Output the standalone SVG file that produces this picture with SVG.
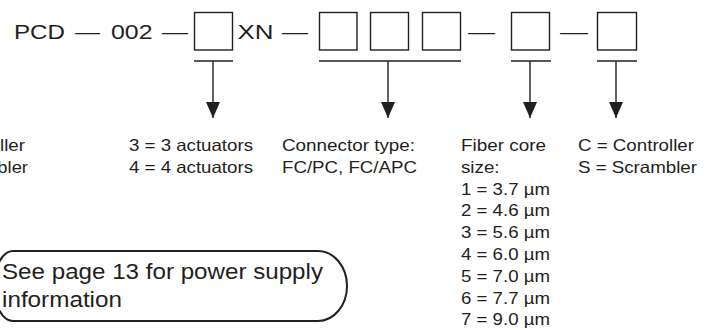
<svg xmlns="http://www.w3.org/2000/svg" width="710" height="330" viewBox="0 0 710 330">
  <style>
    text { font-family: "Liberation Sans", Arial, Helvetica, sans-serif; fill: #231f20; }
    .title { font-size: 21px; }
    .lbl { font-size: 16.5px; }
    .note { font-size: 22.5px; }
    .box { fill: #ffffff; stroke: #231f20; stroke-width: 1.4; }
    .rule { stroke: #231f20; stroke-width: 1.4; fill: none; }
    .stem { stroke: #231f20; stroke-width: 1.4; fill: none; marker-end: url(#head); }
    .callout { fill: none; stroke: #231f20; stroke-width: 2; }
  </style>
  <defs>
    <marker id="head" viewBox="0 0 16 14" refX="16" refY="7" markerWidth="16" markerHeight="14" markerUnits="userSpaceOnUse" orient="auto">
      <path d="M0,0 L16,7 L0,14 Z" fill="#231f20"/>
    </marker>
  </defs>

  <g id="part-number">
    <text class="title" x="14" y="38.5" textLength="51" lengthAdjust="spacingAndGlyphs">PCD</text>
    <text class="title" x="75" y="38.5" textLength="25" lengthAdjust="spacingAndGlyphs">—</text>
    <text class="title" x="111" y="38.5" textLength="41.5" lengthAdjust="spacingAndGlyphs">002</text>
    <text class="title" x="162" y="38.5" textLength="26" lengthAdjust="spacingAndGlyphs">—</text>
    <text class="title" x="237.5" y="38.5" textLength="36" lengthAdjust="spacingAndGlyphs">XN</text>
    <text class="title" x="282" y="38.5" textLength="26" lengthAdjust="spacingAndGlyphs">—</text>
    <text class="title" x="468" y="38.5" textLength="27" lengthAdjust="spacingAndGlyphs">—</text>
    <text class="title" x="560" y="38.5" textLength="28" lengthAdjust="spacingAndGlyphs">—</text>
  </g>

  <g id="box-actuators"><rect class="box" x="194.5" y="12.5" width="38" height="37.5"/></g>
  <g id="box-connector-1"><rect class="box" x="319.5" y="12.5" width="37.5" height="37.5"/></g>
  <g id="box-connector-2"><rect class="box" x="370.5" y="12.5" width="38" height="37.5"/></g>
  <g id="box-connector-3"><rect class="box" x="422.5" y="12.5" width="38" height="37.5"/></g>
  <g id="box-fiber"><rect class="box" x="511.5" y="12.5" width="38" height="37.5"/></g>
  <g id="box-type"><rect class="box" x="597.5" y="12.5" width="39" height="37.5"/></g>

  <g id="connectors">
    <line class="rule" x1="194" y1="61" x2="233" y2="61"/>
    <line class="rule" x1="319" y1="61" x2="461" y2="61"/>
    <line class="rule" x1="511" y1="61" x2="551" y2="61"/>
    <line class="rule" x1="597" y1="61" x2="637" y2="61"/>
    <line class="stem" x1="213" y1="61" x2="213" y2="118"/>
    <line class="stem" x1="388" y1="61" x2="388" y2="118"/>
    <line class="stem" x1="530" y1="61" x2="530" y2="118"/>
    <line class="stem" x1="616" y1="61" x2="616" y2="118"/>
  </g>

  <g id="label-left-type">
    <text class="lbl" x="-91" y="151" textLength="116" lengthAdjust="spacingAndGlyphs">C = Controller</text>
    <text class="lbl" x="-89" y="172.8" textLength="117" lengthAdjust="spacingAndGlyphs">S = Scrambler</text>
  </g>

  <g id="label-actuators">
    <text class="lbl" x="129" y="151" textLength="124" lengthAdjust="spacingAndGlyphs">3 = 3 actuators</text>
    <text class="lbl" x="129" y="172.8" textLength="124" lengthAdjust="spacingAndGlyphs">4 = 4 actuators</text>
  </g>

  <g id="label-connector">
    <text class="lbl" x="282" y="151" textLength="133" lengthAdjust="spacingAndGlyphs">Connector type:</text>
    <text class="lbl" x="282" y="172.8" textLength="135" lengthAdjust="spacingAndGlyphs">FC/PC, FC/APC</text>
  </g>

  <g id="label-fiber">
    <text class="lbl" x="461" y="151" textLength="85" lengthAdjust="spacingAndGlyphs">Fiber core</text>
    <text class="lbl" x="461" y="172.8" textLength="38.5" lengthAdjust="spacingAndGlyphs">size:</text>
    <text class="lbl" x="461" y="194.6" textLength="89" lengthAdjust="spacingAndGlyphs">1 = 3.7 µm</text>
    <text class="lbl" x="461" y="216.4" textLength="89" lengthAdjust="spacingAndGlyphs">2 = 4.6 µm</text>
    <text class="lbl" x="461" y="238.2" textLength="89" lengthAdjust="spacingAndGlyphs">3 = 5.6 µm</text>
    <text class="lbl" x="461" y="260" textLength="89" lengthAdjust="spacingAndGlyphs">4 = 6.0 µm</text>
    <text class="lbl" x="461" y="281.8" textLength="89" lengthAdjust="spacingAndGlyphs">5 = 7.0 µm</text>
    <text class="lbl" x="461" y="303.6" textLength="89" lengthAdjust="spacingAndGlyphs">6 = 7.7 µm</text>
    <text class="lbl" x="461" y="325.4" textLength="89" lengthAdjust="spacingAndGlyphs">7 = 9.0 µm</text>
  </g>

  <g id="label-type">
    <text class="lbl" x="578" y="151" textLength="116" lengthAdjust="spacingAndGlyphs">C = Controller</text>
    <text class="lbl" x="578" y="172.8" textLength="119" lengthAdjust="spacingAndGlyphs">S = Scrambler</text>
  </g>

  <g id="note-power">
    <path class="callout" d="M13,251 H318 A29,35 0 0 1 318,321 H13 A19,35 0 0 1 13,251 Z"/>
    <text class="note" x="2" y="279.3" textLength="321" lengthAdjust="spacingAndGlyphs">See page 13 for power supply</text>
    <text class="note" x="2" y="306.7" textLength="120" lengthAdjust="spacingAndGlyphs">information</text>
  </g>
</svg>
